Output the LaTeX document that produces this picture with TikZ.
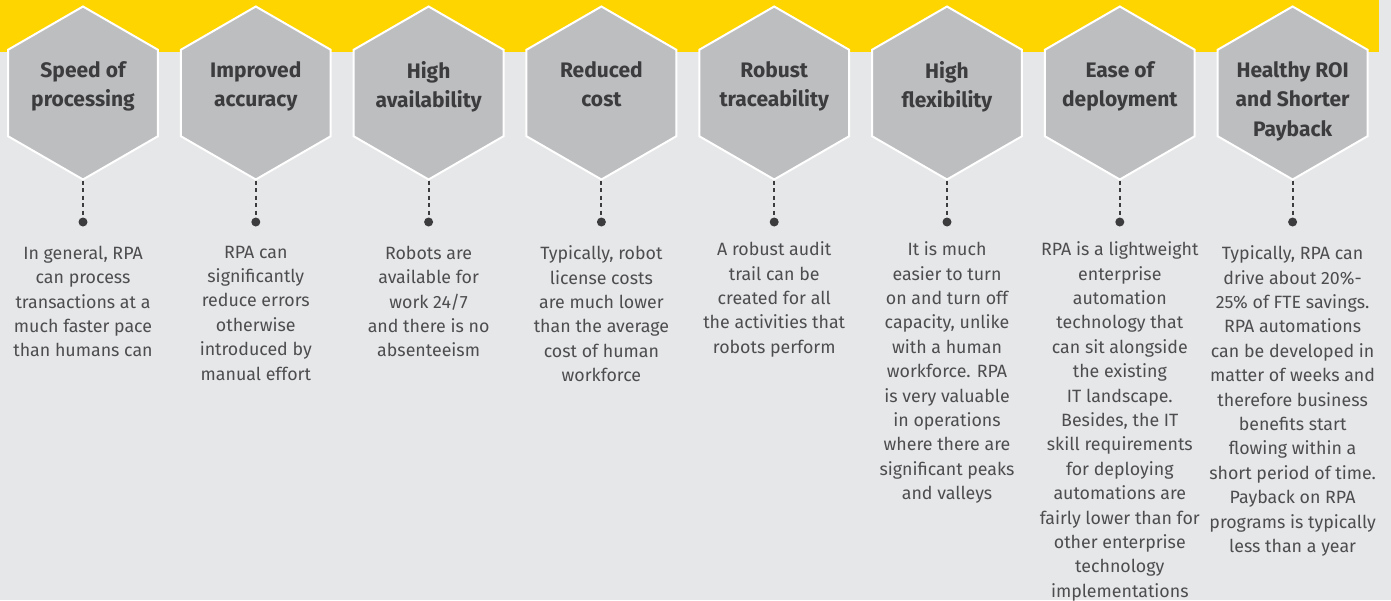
\documentclass[tikz,border=0pt]{standalone}
\usepackage{fontspec}
\setmainfont{Fira Sans}
\usetikzlibrary{shapes.geometric,positioning}

\definecolor{eyyellow}{HTML}{FFD500}
\definecolor{bggray}{HTML}{E6E7E8}
\definecolor{hexgray}{HTML}{BDBEC0}
\definecolor{titlegray}{HTML}{3C3C3E}
\definecolor{txtgray}{HTML}{4D4D4F}

\tikzset{
  hexa/.style={regular polygon, regular polygon sides=6, shape border rotate=30,
    minimum size=173pt, inner sep=0pt, fill=hexgray, draw=white, line width=2pt},
  title/.style={anchor=north, inner sep=0pt, align=center, text=titlegray,
    font=\fontsize{21}{29.5}\selectfont\bfseries},
  dot/.style={circle, fill=titlegray, minimum size=9pt, inner sep=0pt},
  link/.style={draw=titlegray, line width=2pt, dash pattern=on 4pt off 3.5pt},
  desc/.style={anchor=north, inner sep=0pt, align=center, text=txtgray,
    font=\fontsize{17.8}{24.4}\selectfont}
}

\begin{document}
\begin{tikzpicture}[x=1pt,y=-1pt]
\useasboundingbox (0,0) rectangle (1391,600);

% background and yellow band
\fill[bggray] (0,0) rectangle (1391,600);
\fill[eyyellow] (0,0) rectangle (1379,52);

% hexagons, titles, dashed links and dots
\foreach \i/\t in {1/{Speed of\\processing},2/{Improved\\accuracy},
  3/{High\\availability},4/{Reduced\\cost},5/{Robust\\traceability},
  6/{High\\flexibility},7/{Ease of\\deployment},8/{Healthy ROI\\and Shorter\\Payback}}
{
  \node[hexa] (h\i) at ({83+172.8*(\i-1)},93) {};
  \node[title] (t\i) at ({83+172.8*(\i-1)},61) {\t};
  \node[dot] (d\i) at ({83+172.8*(\i-1)},222) {};
  \draw[link] (h\i.south) -- (d\i);
}

% benefit descriptions
\node[desc, below=19pt of d1] (p1) {In general, RPA\\can process\\transactions at a\\much faster pace\\than humans can};
\node[desc, below=19pt of d2] (p2) {RPA can\\significantly\\reduce errors\\otherwise\\introduced by\\manual effort};
\node[desc, below=19pt of d3] (p3) {Robots are\\available for\\work 24/7\\and there is no\\absenteeism};
\node[desc, below=19pt of d4] (p4) {Typically, robot\\license costs\\are much lower\\than the average\\cost of human\\workforce};
\node[desc, below=15pt of d5] (p5) {A robust audit\\trail can be\\created for all\\the activities that\\robots perform};
\node[desc, below=15pt of d6] (p6) {It is much\\easier to turn\\on and turn off\\capacity, unlike\\with a human\\workforce. RPA\\is very valuable\\in operations\\where there are\\significant peaks\\and valleys};
\node[desc, below=15pt of d7] (p7) {RPA is a lightweight\\enterprise\\automation\\technology that\\can sit alongside\\the existing\\IT landscape.\\Besides, the IT\\skill requirements\\for deploying\\automations are\\fairly lower than for\\other enterprise\\technology\\implementations};
\node[desc, below=19pt of d8] (p8) {Typically, RPA can\\drive about 20\%-\\25\% of FTE savings.\\RPA automations\\can be developed in\\matter of weeks and\\therefore business\\benefits start\\flowing within a\\short period of time.\\Payback on RPA\\programs is typically\\less than a year};

\end{tikzpicture}
\end{document}
